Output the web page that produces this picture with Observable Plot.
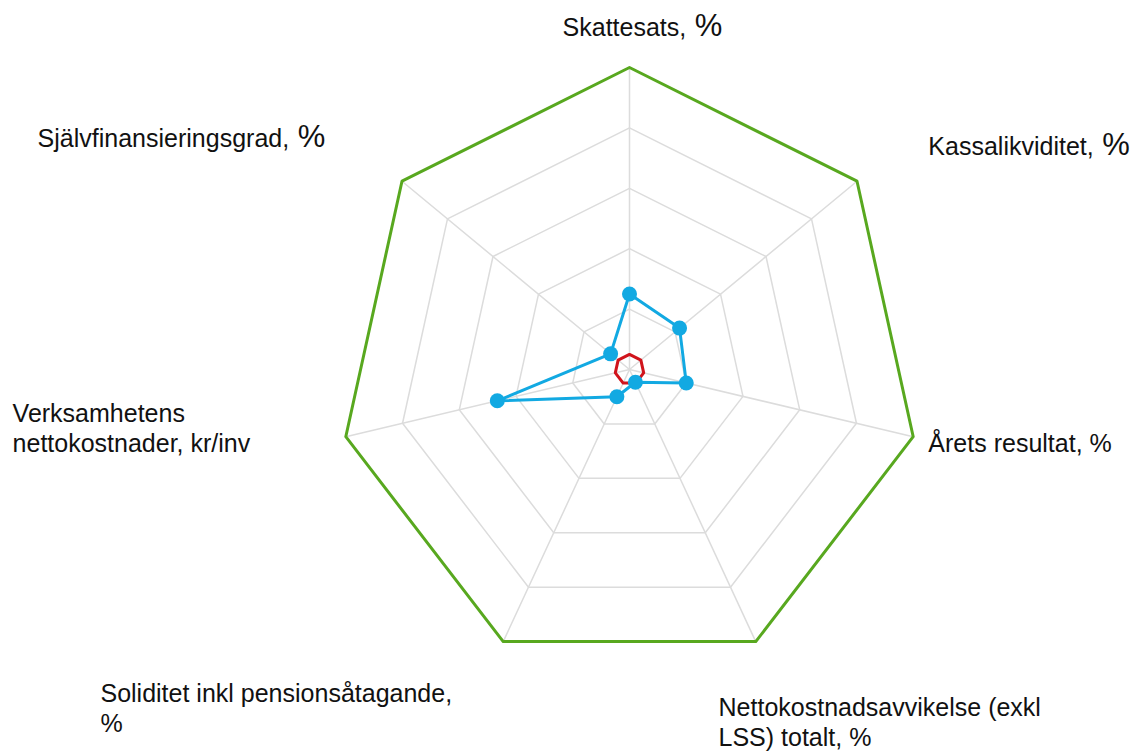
<!DOCTYPE html>
<html>
<head>
<meta charset="utf-8">
<script src="https://cdn.jsdelivr.net/npm/d3@7"></script>
<script src="https://cdn.jsdelivr.net/npm/@observablehq/plot@0.6"></script>
<style>
  html, body { margin: 0; padding: 0; background: #fff; }
  #chart svg { display: block; font-family: "Liberation Sans", Arial, sans-serif; }
</style>
</head>
<body>
<div id="chart"></div>
<script>
// ---- data ----
const axes = [
  "Skattesats, %",
  "Kassalikviditet, %",
  "Årets resultat, %",
  "Nettokostnadsavvikelse (exkl\nLSS) totalt, %",
  "Soliditet inkl pensionsåtagande,\n%",
  "Verksamhetens\nnettokostnader, kr/inv",
  "Självfinansieringsgrad, %"
];
const blueValues  = [0.25, 0.22, 0.20, 0.047, 0.10, 0.466, 0.083];
const greenValues = [1, 1, 1, 1, 1, 1, 1];
const redValues   = [0.05, 0.05, 0.05, 0.05, 0.05, 0.05, 0.05];
const gridLevels  = [0.2, 0.4, 0.6, 0.8, 1.0];
// labels drawn with a larger "%" suffix
const bigPercent  = ["Skattesats, %", "Kassalikviditet, %", "Självfinansieringsgrad, %"];

// ---- layout (label anchor positions, in radar units) ----
const labelX = [-0.230, 1.027, 1.027, 0.306, -1.818, -2.120, -2.034];
const labelY = [1.103, 0.709, -0.275, -1.150, -1.103, -0.175, 0.735];

const n = axes.length;
const ang = i => 2 * Math.PI * i / n;
const toPts = (vals, series) => vals.map((v, i) => ({series, i, x: v * Math.sin(ang(i)), y: v * Math.cos(ang(i))}));

const gridRings = gridLevels.flatMap(l => toPts(axes.map(() => l), "g" + l));
const spokes = axes.flatMap((a, i) => [{k: i, x: 0, y: 0}, {k: i, x: Math.sin(ang(i)), y: Math.cos(ang(i))}]);
const blue = toPts(blueValues, "blue");
const green = toPts(greenValues, "green");
const red = toPts(redValues, "red");
const labels = axes.map((t, i) => ({text: t, x: labelX[i], y: labelY[i]}));

const chart = Plot.plot({
  width: 1141,
  height: 751,
  marginLeft: 338,
  marginRight: 221,
  marginTop: 67,
  marginBottom: 80,
  x: {domain: [-1, 1], axis: null},
  y: {domain: [-1, 1], axis: null},
  style: {fontFamily: "Liberation Sans, Arial, sans-serif", background: "#fff"},
  marks: [
    Plot.line(spokes, {x: "x", y: "y", z: "k", stroke: "#dcdcdc", strokeWidth: 1.5}),
    Plot.line(gridRings, {x: "x", y: "y", z: "series", curve: "linear-closed", stroke: "#dcdcdc", strokeWidth: 1.5}),
    Plot.line(green, {x: "x", y: "y", curve: "linear-closed", stroke: "#58a81f", strokeWidth: 3}),
    Plot.line(red, {x: "x", y: "y", curve: "linear-closed", stroke: "#d0141c", strokeWidth: 3}),
    Plot.line(blue, {x: "x", y: "y", curve: "linear-closed", stroke: "#12a9e2", strokeWidth: 3}),
    Plot.dot(blue, {x: "x", y: "y", r: 7.5, fill: "#12a9e2"}),
    Plot.text(labels, {x: "x", y: "y", text: "text", textAnchor: "start", lineAnchor: "top", dy: -22,
      fontSize: 25, lineHeight: 1.2, fill: "#111"})
  ]
});

// enlarge the "%" suffix on some labels
d3.select(chart).selectAll("text").each(function() {
  const t = this.textContent;
  if (bigPercent.includes(t) && this.children.length === 0) {
    const base = t.slice(0, -2);
    this.textContent = base;
    d3.select(this).append("tspan").attr("font-size", 31).text(" %");
  }
});

document.getElementById("chart").appendChild(chart);
</script>
</body>
</html>
